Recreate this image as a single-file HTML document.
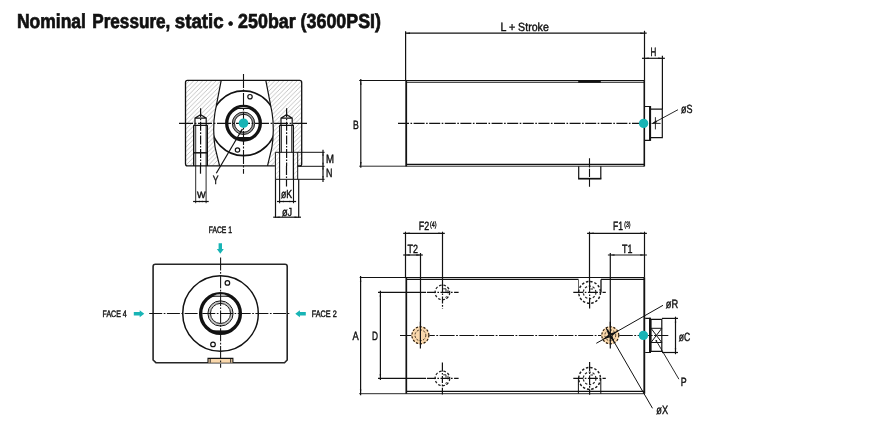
<!DOCTYPE html>
<html><head><meta charset="utf-8"><title>Nominal Pressure, static · 250bar (3600PSI)</title>
<style>
html,body{margin:0;padding:0;background:#fff;}
body{width:870px;height:435px;overflow:hidden;}
svg{display:block;}
svg text{text-rendering:geometricPrecision;font-family:"Liberation Sans",Arial,Helvetica,sans-serif;fill:#111;}
</style></head><body>
<svg width="870" height="435" viewBox="0 0 870 435">
<rect width="870" height="435" fill="#fff"/>
<defs><pattern id="h" width="4.5" height="4.5" patternUnits="userSpaceOnUse"><path d="M-1,5.5 L5.5,-1 M-1,1 L1,-1 M3.5,5.5 L5.5,3.5" stroke="#b4b4b4" stroke-width="0.8"/></pattern><pattern id="h2" width="4.5" height="4.5" patternUnits="userSpaceOnUse"><path d="M-1,5.5 L5.5,-1 M-1,1 L1,-1 M3.5,5.5 L5.5,3.5" stroke="#cfcfcf" stroke-width="0.8"/></pattern></defs>
<path d="M187.5,80.4 H299.7 Q301.7,80.4 301.7,82.4 V164 Q301.7,165.9 299.7,165.9 H187.5 Q185.5,165.9 185.5,164 V82.4 Q185.5,80.4 187.5,80.4 Z" fill="#fff" />
<path d="M187.5,80.4 H299.7 Q301.7,80.4 301.7,82.4 V164 Q301.7,165.9 299.7,165.9 H187.5 Q185.5,165.9 185.5,164 V82.4 Q185.5,80.4 187.5,80.4 Z" fill="url(#h)" />
<path d="M221.2,80.4 L214.9,113 Q213.6,121 213.7,130 Q213.8,140 215.2,148 L219.6,165.9 L267.5,165.9 L271.8,148 Q273.2,140 273.3,130 Q273.4,121 272.1,113 L265.8,80.4 Z" fill="#fff" />
<path d="M195.0,118.1 L200.6,114.7 L206.2,118.1 V125.3 H207.29999999999998 V166 H193.9 V125.3 H195.0 Z" fill="#fff" />
<path d="M281.0,118.1 L286.6,114.7 L292.20000000000005,118.1 V125.3 H293.3 V166 H279.90000000000003 V125.3 H281.0 Z" fill="#fff" />
<path d="M187.5,80.4 H299.7 Q301.7,80.4 301.7,82.4 V164 Q301.7,165.9 299.7,165.9 H187.5 Q185.5,165.9 185.5,164 V82.4 Q185.5,80.4 187.5,80.4 Z" fill="none" stroke="#121212" stroke-width="1.3" />
<path d="M274.9,152.4 H297.7 V179.3 H274.9 Z" fill="#fff" />
<path d="M275.4,152.4 H279.6 V179.3 H275.4 Z" fill="url(#h2)" />
<path d="M293.3,152.4 H297.7 V179.3 H293.3 Z" fill="url(#h2)" />
<path d="M221.2,80.4 L214.9,113 Q213.6,121 213.7,130 Q213.8,140 215.2,148 L219.6,165.9" fill="none" stroke="#121212" stroke-width="1.2" />
<path d="M265.8,80.4 L272.1,113 Q273.4,121 273.3,130 Q273.2,140 271.8,148 L267.5,165.9" fill="none" stroke="#121212" stroke-width="1.2" />
<clipPath id="cb"><path d="M221.2,80.4 L214.9,113 Q213.6,121 213.7,130 Q213.8,140 215.2,148 L219.6,165.9 L267.5,165.9 L271.8,148 Q273.2,140 273.3,130 Q273.4,121 272.1,113 L265.8,80.4 Z"/></clipPath>
<circle cx="243.5" cy="123.3" r="32.4" fill="none" stroke="#121212" stroke-width="1.7" clip-path="url(#cb)"/>
<circle cx="243.5" cy="123.3" r="16.8" fill="none" stroke="#121212" stroke-width="3.3"/>
<path d="M238.3,108.05 A15.95,15.95 0 0 1 248.7,108.05 Z" fill="#fff" />
<path d="M236.9,108.5 H250.1" fill="none" stroke="#121212" stroke-width="1.0" />
<path d="M236.9,137.5 H250.1" fill="none" stroke="#121212" stroke-width="1.0" />
<path d="M235.1,137.9 A17.3,17.3 0 0 0 251.9,137.9 Z" fill="#121212" stroke="#121212" stroke-width="0.5" />
<circle cx="243.5" cy="123.3" r="10.1" fill="none" stroke="#9a9a9a" stroke-width="2.6"/>
<circle cx="243.5" cy="123.3" r="11.2" fill="none" stroke="#121212" stroke-width="0.9"/>
<circle cx="243.5" cy="123.3" r="9.0" fill="none" stroke="#121212" stroke-width="0.9"/>
<circle cx="250" cy="96.7" r="2.2" fill="#fff" stroke="#121212" stroke-width="1.2"/>
<circle cx="237.5" cy="150" r="2.2" fill="#fff" stroke="#121212" stroke-width="1.2"/>
<line x1="179" y1="123.39999999999999" x2="308" y2="123.39999999999999" stroke="#121212" stroke-width="1.1" stroke-dasharray="14 1.6 1.8 1.6"/>
<line x1="243.5" y1="74" x2="243.5" y2="173.7" stroke="#121212" stroke-width="1.1" stroke-dasharray="14 1.6 1.8 1.6"/>
<circle cx="243.5" cy="123.2" r="4.8" fill="#18b4b5"/>
<path d="M195.0,125.3 V118.1 L200.6,114.7 L206.2,118.1 V125.3 M195.0,118.1 H206.2 M193.5,125.3 H207.7" fill="none" stroke="#121212" stroke-width="1.2" />
<line x1="200.6" y1="108.2" x2="200.6" y2="166" stroke="#121212" stroke-width="1.2" stroke-dasharray="9 1.5 1.6 1.5"/>
<path d="M281.0,125.3 V118.1 L286.6,114.7 L292.20000000000005,118.1 V125.3 M281.0,118.1 H292.20000000000005 M279.5,125.3 H293.70000000000005" fill="none" stroke="#121212" stroke-width="1.2" />
<line x1="286.6" y1="108.2" x2="286.6" y2="166" stroke="#121212" stroke-width="1.2" stroke-dasharray="9 1.5 1.6 1.5"/>
<path d="M193.7,125.3 V165.9 M207.3,125.3 V165.9" fill="none" stroke="#121212" stroke-width="1.4" />
<path d="M193.1,152.8 H207.9" fill="none" stroke="#121212" stroke-width="1.5" />
<line x1="195.7" y1="125.3" x2="195.7" y2="203.2" stroke="#121212" stroke-width="0.9"/>
<line x1="206.1" y1="125.3" x2="206.1" y2="203.2" stroke="#121212" stroke-width="0.9"/>
<line x1="200.5" y1="166" x2="200.5" y2="173.7" stroke="#121212" stroke-width="1.2"/>
<line x1="193.1" y1="201.5" x2="208.7" y2="201.5" stroke="#121212" stroke-width="1.2"/>
<polygon points="195.70,201.50 199.90,200.75 199.90,202.25" fill="#121212"/>
<polygon points="206.10,201.50 201.90,202.25 201.90,200.75" fill="#121212"/>
<path d="M279.7,125.3 V152.4" fill="none" stroke="#121212" stroke-width="1.4" />
<path d="M293.3,125.3 V152.4" fill="none" stroke="#121212" stroke-width="1.4" />
<path d="M293.4,152.4 V179.3" fill="none" stroke="#121212" stroke-width="1.3" />
<path d="M281.5,125.3 V152.4 M291.6,125.3 V152.4" fill="none" stroke="#121212" stroke-width="0.8" />
<path d="M275.4,179.3 V152.3 H324.6 M297.7,152.4 V179.3 M275.4,179.3 H324.6 M297.7,166.3 H324.6" fill="none" stroke="#121212" stroke-width="1.0" />
<line x1="279.6" y1="152.4" x2="279.6" y2="203.2" stroke="#121212" stroke-width="1.1"/>
<line x1="293.5" y1="179.3" x2="293.5" y2="203.2" stroke="#121212" stroke-width="1.1"/>
<line x1="275.5" y1="179.3" x2="275.5" y2="217.7" stroke="#121212" stroke-width="1.2"/>
<line x1="298.7" y1="179.3" x2="298.7" y2="217.7" stroke="#121212" stroke-width="1.2"/>
<line x1="286.5" y1="166" x2="286.5" y2="186.5" stroke="#121212" stroke-width="1.2" stroke-dasharray="9 1.5 1.6 1.5"/>
<line x1="277.0" y1="201.5" x2="296.1" y2="201.5" stroke="#121212" stroke-width="1.2"/>
<polygon points="279.60,201.50 283.80,200.75 283.80,202.25" fill="#121212"/>
<polygon points="293.50,201.50 289.30,202.25 289.30,200.75" fill="#121212"/>
<line x1="273.2" y1="217.2" x2="301.0" y2="217.2" stroke="#121212" stroke-width="1.2"/>
<polygon points="275.50,217.20 279.70,216.45 279.70,217.95" fill="#121212"/>
<polygon points="298.70,217.20 294.50,217.95 294.50,216.45" fill="#121212"/>
<line x1="323" y1="149.8" x2="323" y2="181.9" stroke="#121212" stroke-width="1.2"/>
<polygon points="323.00,152.40 323.65,155.80 322.35,155.80" fill="#121212"/>
<polygon points="323.00,166.10 322.35,162.70 323.65,162.70" fill="#121212"/>
<polygon points="323.00,166.10 323.65,169.50 322.35,169.50" fill="#121212"/>
<polygon points="323.00,179.30 322.35,175.90 323.65,175.90" fill="#121212"/>
<line x1="242.4" y1="129.0" x2="216.3" y2="173.3" stroke="#121212" stroke-width="1.2"/>
<polygon points="242.70,128.40 241.19,132.73 239.64,131.82" fill="#121212"/>
<path d="M406.3,80.8 H644.4 V165.6 H406.3 Z" fill="#fff" />
<line x1="359.2" y1="80.5" x2="644.4" y2="80.5" stroke="#121212" stroke-width="1.0"/>
<line x1="406.3" y1="82.2" x2="644.4" y2="82.2" stroke="#121212" stroke-width="1.05"/>
<line x1="578.2" y1="81.35" x2="600.8" y2="81.35" stroke="#121212" stroke-width="2.7"/>
<line x1="406.3" y1="164.4" x2="644.4" y2="164.4" stroke="#121212" stroke-width="1.2"/>
<line x1="359.2" y1="166.2" x2="644.4" y2="166.2" stroke="#121212" stroke-width="0.9"/>
<line x1="406.2" y1="80.5" x2="406.2" y2="166.4" stroke="#121212" stroke-width="1.8"/>
<line x1="644.3" y1="80.5" x2="644.3" y2="166.4" stroke="#121212" stroke-width="1.6"/>
<line x1="405.6" y1="31.2" x2="405.6" y2="80.5" stroke="#121212" stroke-width="1.2"/>
<line x1="644.5" y1="30.8" x2="644.5" y2="80.8" stroke="#121212" stroke-width="1.2"/>
<line x1="405.8" y1="33.2" x2="646.7" y2="33.2" stroke="#121212" stroke-width="1.2"/>
<polygon points="405.80,33.20 410.00,32.45 410.00,33.95" fill="#121212"/>
<polygon points="644.50,33.20 640.30,33.95 640.30,32.45" fill="#121212"/>
<line x1="662.4" y1="55.8" x2="662.4" y2="109" stroke="#121212" stroke-width="1.2"/>
<line x1="642.0" y1="58.3" x2="664.9" y2="58.3" stroke="#121212" stroke-width="1.2"/>
<polygon points="644.50,58.30 648.70,57.55 648.70,59.05" fill="#121212"/>
<polygon points="662.40,58.30 658.20,59.05 658.20,57.55" fill="#121212"/>
<line x1="360.8" y1="78.9" x2="360.8" y2="167.79999999999998" stroke="#121212" stroke-width="1.2"/>
<polygon points="360.80,80.50 361.55,84.70 360.05,84.70" fill="#121212"/>
<polygon points="360.80,166.20 360.05,162.00 361.55,162.00" fill="#121212"/>
<line x1="398" y1="123.4" x2="640" y2="123.4" stroke="#121212" stroke-width="1.1" stroke-dasharray="11 1.5 1.6 1.5"/>
<path d="M645,106.5 H650 V140.3 H645" fill="none" stroke="#121212" stroke-width="1.2" />
<path d="M651,109.2 H662.3 V137.7 H651" fill="none" stroke="#121212" stroke-width="1.2" />
<line x1="650.1" y1="106" x2="650.1" y2="140.8" stroke="#121212" stroke-width="2.0"/>
<line x1="655.4" y1="117.2" x2="655.4" y2="129.4" stroke="#121212" stroke-width="0.9"/>
<line x1="651.5" y1="123.4" x2="660.6" y2="123.4" stroke="#121212" stroke-width="0.9"/>
<line x1="678" y1="109.7" x2="653" y2="123.2" stroke="#121212" stroke-width="0.9"/>
<polygon points="652.20,123.60 656.07,120.25 657.12,122.18" fill="#121212"/>
<circle cx="643.6" cy="123.4" r="4.7" fill="#18b4b5"/>
<path d="M578.7,166.2 V178.6 M600.8,166.2 V178.6" fill="none" stroke="#121212" stroke-width="1.2" />
<line x1="578.1" y1="178.7" x2="601.4" y2="178.7" stroke="#121212" stroke-width="1.7"/>
<line x1="589.5" y1="158.2" x2="589.5" y2="186.8" stroke="#121212" stroke-width="1.1" stroke-dasharray="9.3 1.2 8.2 1.2 20"/>
<path d="M406.3,277.5 H644.6 V393.7 H406.3 Z" fill="#fff" />
<line x1="359.7" y1="277.5" x2="644.6" y2="277.5" stroke="#121212" stroke-width="1.2"/>
<line x1="406.3" y1="279.4" x2="578.5" y2="279.4" stroke="#121212" stroke-width="1.2"/>
<line x1="601" y1="279.4" x2="644.6" y2="279.4" stroke="#121212" stroke-width="1.2"/>
<line x1="406.3" y1="391.4" x2="644.6" y2="391.4" stroke="#121212" stroke-width="1.2"/>
<line x1="359.2" y1="393.7" x2="644.6" y2="393.7" stroke="#121212" stroke-width="0.9"/>
<line x1="406.3" y1="277.5" x2="406.3" y2="393.7" stroke="#121212" stroke-width="1.7"/>
<line x1="644.3" y1="277.5" x2="644.3" y2="393.7" stroke="#121212" stroke-width="1.85"/>
<line x1="405.5" y1="231.7" x2="405.5" y2="277.5" stroke="#121212" stroke-width="1.2"/>
<line x1="442.5" y1="231.7" x2="442.5" y2="285" stroke="#121212" stroke-width="1.2"/>
<line x1="403.2" y1="233.3" x2="444.8" y2="233.3" stroke="#121212" stroke-width="1.2"/>
<polygon points="405.50,233.30 409.70,232.55 409.70,234.05" fill="#121212"/>
<polygon points="442.50,233.30 438.30,234.05 438.30,232.55" fill="#121212"/>
<line x1="420.5" y1="253" x2="420.5" y2="327" stroke="#121212" stroke-width="1.2"/>
<line x1="403.2" y1="255" x2="422.8" y2="255" stroke="#121212" stroke-width="1.2"/>
<polygon points="405.50,255.00 409.70,254.25 409.70,255.75" fill="#121212"/>
<polygon points="420.50,255.00 416.30,255.75 416.30,254.25" fill="#121212"/>
<line x1="589.5" y1="231.7" x2="589.5" y2="282" stroke="#121212" stroke-width="1.2"/>
<line x1="644.5" y1="231.7" x2="644.5" y2="277.5" stroke="#121212" stroke-width="1.2"/>
<line x1="587.1" y1="233.3" x2="646.9" y2="233.3" stroke="#121212" stroke-width="1.2"/>
<polygon points="589.50,233.30 593.70,232.55 593.70,234.05" fill="#121212"/>
<polygon points="644.50,233.30 640.30,234.05 640.30,232.55" fill="#121212"/>
<line x1="610.3" y1="253" x2="610.3" y2="326" stroke="#121212" stroke-width="1.2"/>
<line x1="607.9" y1="255" x2="646.9" y2="255" stroke="#121212" stroke-width="1.2"/>
<polygon points="610.30,255.00 614.50,254.25 614.50,255.75" fill="#121212"/>
<polygon points="644.50,255.00 640.30,255.75 640.30,254.25" fill="#121212"/>
<line x1="360.6" y1="275.9" x2="360.6" y2="395.3" stroke="#121212" stroke-width="1.2"/>
<polygon points="360.60,277.50 361.35,281.70 359.85,281.70" fill="#121212"/>
<polygon points="360.60,393.70 359.85,389.50 361.35,389.50" fill="#121212"/>
<line x1="378" y1="292.4" x2="426" y2="292.4" stroke="#121212" stroke-width="1.2"/>
<line x1="378" y1="378.4" x2="426" y2="378.4" stroke="#121212" stroke-width="1.2"/>
<line x1="380.4" y1="290.79999999999995" x2="380.4" y2="380.0" stroke="#121212" stroke-width="1.2"/>
<polygon points="380.40,292.40 381.15,296.60 379.65,296.60" fill="#121212"/>
<polygon points="380.40,378.40 379.65,374.20 381.15,374.20" fill="#121212"/>
<line x1="400" y1="335.45" x2="668.3" y2="335.45" stroke="#121212" stroke-width="1.1" stroke-dasharray="15 1.5 1.8 1.5"/>
<circle cx="442.4" cy="292.4" r="7.3" fill="none" stroke="#222" stroke-width="1.25" stroke-dasharray="2.6 1.8"/>
<path d="M443.2,288.79999999999995 H446.0 V291.79999999999995" fill="none" stroke="#121212" stroke-width="0.9" />
<path d="M448.0,289.9 V293.4" fill="none" stroke="#121212" stroke-width="0.9" />
<circle cx="446.59999999999997" cy="297.4" r="0.9" fill="none" stroke="#121212" stroke-width="0.6"/>
<line x1="426.9" y1="292.4" x2="458.59999999999997" y2="292.4" stroke="#121212" stroke-width="1.2" stroke-dasharray="9 1.5 1.6 1.5"/>
<circle cx="442.4" cy="378.4" r="7.3" fill="none" stroke="#222" stroke-width="1.25" stroke-dasharray="2.6 1.8"/>
<path d="M443.2,374.79999999999995 H446.0 V377.79999999999995" fill="none" stroke="#121212" stroke-width="0.9" />
<path d="M448.0,375.9 V379.4" fill="none" stroke="#121212" stroke-width="0.9" />
<circle cx="446.59999999999997" cy="383.4" r="0.9" fill="none" stroke="#121212" stroke-width="0.6"/>
<line x1="426.9" y1="378.4" x2="458.59999999999997" y2="378.4" stroke="#121212" stroke-width="1.2" stroke-dasharray="9 1.5 1.6 1.5"/>
<line x1="442.5" y1="285" x2="442.5" y2="308.7" stroke="#121212" stroke-width="1.2" stroke-dasharray="7 1.5 1.6 1.5"/>
<line x1="442.4" y1="362.5" x2="442.4" y2="394.5" stroke="#121212" stroke-width="1.2" stroke-dasharray="9 1.5 1.6 1.5 7 1.5 1.6 1.5"/>
<path d="M578.5,279.5 V292" fill="none" stroke="#555" stroke-width="0.9" />
<path d="M601,279.5 V292.4" fill="none" stroke="#121212" stroke-width="1.3" />
<path d="M578.4,393.7 V378.3 M600.8,393.7 V378.3" fill="none" stroke="#121212" stroke-width="1.0" />
<circle cx="589.6" cy="292.4" r="10.9" fill="none" stroke="#1a1a1a" stroke-width="1.4" stroke-dasharray="2.5 1.8"/>
<circle cx="589.6" cy="292.4" r="6.3" fill="none" stroke="#2a2a2a" stroke-width="1.2" stroke-dasharray="2.3 1.7"/>
<path d="M590.4,289.0 H593.0" fill="none" stroke="#121212" stroke-width="0.9" />
<line x1="573.3000000000001" y1="292.4" x2="605.8000000000001" y2="292.4" stroke="#121212" stroke-width="1.2" stroke-dasharray="10 1.5 1.6 1.5"/>
<circle cx="589.6" cy="378.4" r="10.9" fill="none" stroke="#1a1a1a" stroke-width="1.4" stroke-dasharray="2.5 1.8"/>
<circle cx="589.6" cy="378.4" r="6.3" fill="none" stroke="#2a2a2a" stroke-width="1.2" stroke-dasharray="2.3 1.7"/>
<path d="M590.4,375.0 H593.0" fill="none" stroke="#121212" stroke-width="0.9" />
<line x1="573.3000000000001" y1="378.4" x2="605.8000000000001" y2="378.4" stroke="#121212" stroke-width="1.2" stroke-dasharray="10 1.5 1.6 1.5"/>
<line x1="589.6" y1="282" x2="589.6" y2="308.7" stroke="#121212" stroke-width="1.2" stroke-dasharray="11 1.5 1.6 1.5"/>
<line x1="589.6" y1="362" x2="589.6" y2="394.8" stroke="#121212" stroke-width="1.2" stroke-dasharray="9 1.5 1.6 1.5"/>
<circle cx="420.4" cy="335.3" r="9.0" fill="#fad8ac"/>
<circle cx="420.4" cy="335.3" r="8.5" fill="none" stroke="#2a1e10" stroke-width="1.2" stroke-dasharray="2.2 1.7"/>
<circle cx="420.4" cy="335.3" r="5.4" fill="none" stroke="#3a2c1a" stroke-width="1.0" stroke-dasharray="2.0 1.5"/>
<line x1="420.4" y1="321.8" x2="420.4" y2="348.6" stroke="#121212" stroke-width="1.2"/>
<circle cx="610.3" cy="335.3" r="9.0" fill="#fad8ac"/>
<circle cx="610.3" cy="335.3" r="8.5" fill="none" stroke="#2a1e10" stroke-width="1.2" stroke-dasharray="2.2 1.7"/>
<circle cx="610.3" cy="335.3" r="5.4" fill="none" stroke="#3a2c1a" stroke-width="1.0" stroke-dasharray="2.0 1.5"/>
<line x1="610.3" y1="321.8" x2="610.3" y2="348.6" stroke="#121212" stroke-width="1.2"/>
<line x1="663" y1="305.3" x2="596.3" y2="343.3" stroke="#121212" stroke-width="1.0"/>
<polygon points="618.29,330.75 611.96,336.20 610.38,333.41" fill="#121212"/>
<polygon points="602.31,339.85 608.64,334.40 610.22,337.19" fill="#121212"/>
<line x1="606.2" y1="328.2" x2="652.5" y2="408.3" stroke="#121212" stroke-width="1.0"/>
<polygon points="614.90,343.26 609.42,336.97 612.19,335.36" fill="#121212"/>
<polygon points="605.70,327.34 611.18,333.63 608.41,335.24" fill="#121212"/>
<path d="M645.2,318.3 H650 V352.5 H645.2" fill="none" stroke="#121212" stroke-width="1.2" />
<path d="M651,319.3 H661.8 V351.3 H651 Z" fill="none" stroke="#121212" stroke-width="1.2" />
<line x1="650.0" y1="317.8" x2="650.0" y2="353" stroke="#121212" stroke-width="1.95"/>
<path d="M651,328.3 H661.8 M651,342.5 H661.8 M651,328.3 L661.8,342.5 M661.8,328.3 L651,342.5" fill="none" stroke="#121212" stroke-width="1.0" />
<line x1="662" y1="318.4" x2="678" y2="318.4" stroke="#121212" stroke-width="1.2"/>
<line x1="662" y1="352.5" x2="678" y2="352.5" stroke="#121212" stroke-width="1.2"/>
<line x1="675.5" y1="316.7" x2="675.5" y2="354.2" stroke="#121212" stroke-width="1.2"/>
<polygon points="675.50,318.40 676.25,322.60 674.75,322.60" fill="#121212"/>
<polygon points="675.50,352.50 674.75,348.30 676.25,348.30" fill="#121212"/>
<line x1="656.3" y1="340.8" x2="678.9" y2="379.2" stroke="#121212" stroke-width="0.9"/>
<circle cx="656.3" cy="340.8" r="0.9" fill="#121212"/>
<circle cx="643.4" cy="335.4" r="4.7" fill="#18b4b5"/>
<path d="M155.4,264.2 H285 Q287.2,264.2 287.2,266.4 V360 L284.5,362.7 H155.9 L153.1,360 V266.4 Q153.1,264.2 155.4,264.2 Z" fill="#fff" stroke="#262626" stroke-width="1.6" />
<circle cx="220.5" cy="313.45" r="37.8" fill="none" stroke="#121212" stroke-width="1.5"/>
<circle cx="220.5" cy="313.45" r="19.85" fill="none" stroke="#121212" stroke-width="3.4"/>
<path d="M213.3,295.7 A18.9,18.9 0 0 1 227.7,295.7 Z" fill="#fff" />
<path d="M212.2,296.25 H228.8" fill="none" stroke="#121212" stroke-width="1.0" />
<path d="M211.2,330.95 H229.8" fill="none" stroke="#121212" stroke-width="1.0" />
<path d="M211.1,331.25 A20.5,20.5 0 0 0 229.9,331.25 Z" fill="#121212" stroke="#121212" stroke-width="0.5" />
<circle cx="220.5" cy="313.45" r="11.35" fill="none" stroke="#c4c4c4" stroke-width="1.7"/>
<circle cx="220.5" cy="313.45" r="12.6" fill="none" stroke="#121212" stroke-width="1.0"/>
<circle cx="220.5" cy="313.45" r="10.05" fill="none" stroke="#121212" stroke-width="1.0"/>
<circle cx="227.4" cy="282.9" r="2.3" fill="#fff" stroke="#121212" stroke-width="1.2"/>
<circle cx="213" cy="344.4" r="2.3" fill="#fff" stroke="#121212" stroke-width="1.2"/>
<path d="M208,362.7 V358.4 H232.9 V362.7" fill="#fad8ac" stroke="#121212" stroke-width="1.1" />
<path d="M210.2,358.4 V362.7 M230.7,358.4 V362.7" fill="none" stroke="#121212" stroke-width="0.9" />
<line x1="149.2" y1="313.45" x2="290" y2="313.45" stroke="#121212" stroke-width="1.05" stroke-dasharray="13 1.5 1.7 1.5"/>
<line x1="220.6" y1="257.5" x2="220.6" y2="367.8" stroke="#121212" stroke-width="1.05" stroke-dasharray="13 1.5 1.7 1.5"/>
<g transform="translate(220.3,253.7) rotate(90)"><path d="M-10.5,-1.7 H-4.6 V-3.5 L0,0 L-4.6,3.5 V1.7 H-10.5 Z" fill="#18b4b5"/></g>
<g transform="translate(144.3,313.7) rotate(0)"><path d="M-10.5,-1.7 H-4.6 V-3.5 L0,0 L-4.6,3.5 V1.7 H-10.5 Z" fill="#18b4b5"/></g>
<g transform="translate(295.3,313.7) rotate(180)"><path d="M-10.5,-1.7 H-4.6 V-3.5 L0,0 L-4.6,3.5 V1.7 H-10.5 Z" fill="#18b4b5"/></g>
<g style="filter:grayscale(1)">
<text x="17.0" y="28.3" font-size="20.2" textLength="68.9" lengthAdjust="spacingAndGlyphs" font-weight="bold" stroke="#111" stroke-width="0.7">Nominal</text>
<text x="92.2" y="28.3" font-size="20.2" textLength="78.2" lengthAdjust="spacingAndGlyphs" font-weight="bold" stroke="#111" stroke-width="0.7">Pressure,</text>
<text x="174.8" y="28.3" font-size="20.2" textLength="48.8" lengthAdjust="spacingAndGlyphs" font-weight="bold" stroke="#111" stroke-width="0.7">static</text>
<text x="230.5" y="27.9" font-size="13.5" font-weight="bold" text-anchor="middle" stroke="#111" stroke-width="0.7">•</text>
<text x="238.1" y="28.3" font-size="20.2" textLength="142.9" lengthAdjust="spacingAndGlyphs" font-weight="bold" stroke="#111" stroke-width="0.7">250bar (3600PSI)</text>
<text x="196.9" y="197.8" font-size="9.2" textLength="8.6" lengthAdjust="spacingAndGlyphs" stroke="#111" stroke-width="0.42">W</text>
<text x="280.9" y="197.9" font-size="11.6" textLength="11.2" lengthAdjust="spacingAndGlyphs" stroke="#111" stroke-width="0.42">øK</text>
<text x="281.9" y="215.7" font-size="11.6" textLength="10.2" lengthAdjust="spacingAndGlyphs" stroke="#111" stroke-width="0.42">øJ</text>
<text x="325.9" y="163.3" font-size="11.9" textLength="8.0" lengthAdjust="spacingAndGlyphs" stroke="#111" stroke-width="0.42">M</text>
<text x="325.9" y="177.2" font-size="11.9" textLength="6.4" lengthAdjust="spacingAndGlyphs" stroke="#111" stroke-width="0.42">N</text>
<text x="212.8" y="184.2" font-size="11.9" textLength="5.8" lengthAdjust="spacingAndGlyphs" stroke="#111" stroke-width="0.42">Y</text>
<text x="500.5" y="30.7" font-size="11.9" textLength="48.3" lengthAdjust="spacingAndGlyphs" stroke="#111" stroke-width="0.42">L + Stroke</text>
<text x="650.5" y="55.8" font-size="11.9" textLength="5.8" lengthAdjust="spacingAndGlyphs" stroke="#111" stroke-width="0.42">H</text>
<text x="353" y="128.7" font-size="11.9" textLength="5.8" lengthAdjust="spacingAndGlyphs" stroke="#111" stroke-width="0.42">B</text>
<text x="680.9" y="112.6" font-size="11.9" textLength="11.5" lengthAdjust="spacingAndGlyphs" stroke="#111" stroke-width="0.42">øS</text>
<text x="418.7" y="230.3" font-size="11.9" textLength="10.4" lengthAdjust="spacingAndGlyphs" stroke="#111" stroke-width="0.42">F2</text>
<text x="430" y="226.7" font-size="7.8" textLength="6.5" lengthAdjust="spacingAndGlyphs" stroke="#111" stroke-width="0.42">(4)</text>
<text x="407.5" y="253" font-size="11.9" textLength="10.4" lengthAdjust="spacingAndGlyphs" stroke="#111" stroke-width="0.42">T2</text>
<text x="613" y="230.3" font-size="11.9" textLength="10" lengthAdjust="spacingAndGlyphs" stroke="#111" stroke-width="0.42">F1</text>
<text x="624.2" y="226.5" font-size="7.8" textLength="6.3" lengthAdjust="spacingAndGlyphs" stroke="#111" stroke-width="0.42">(3)</text>
<text x="622" y="253" font-size="11.9" textLength="10.4" lengthAdjust="spacingAndGlyphs" stroke="#111" stroke-width="0.42">T1</text>
<text x="352.5" y="339.7" font-size="11.9" textLength="6.2" lengthAdjust="spacingAndGlyphs" stroke="#111" stroke-width="0.42">A</text>
<text x="372" y="339.7" font-size="11.9" textLength="6.0" lengthAdjust="spacingAndGlyphs" stroke="#111" stroke-width="0.42">D</text>
<text x="665.8" y="308.3" font-size="11.9" textLength="12.4" lengthAdjust="spacingAndGlyphs" stroke="#111" stroke-width="0.42">øR</text>
<text x="656.3" y="414.2" font-size="11.9" textLength="11.7" lengthAdjust="spacingAndGlyphs" stroke="#111" stroke-width="0.42">øX</text>
<text x="678.8" y="341.2" font-size="11.9" textLength="11.5" lengthAdjust="spacingAndGlyphs" stroke="#111" stroke-width="0.42">øC</text>
<text x="680.8" y="385.8" font-size="11.9" textLength="5.9" lengthAdjust="spacingAndGlyphs" stroke="#111" stroke-width="0.42">P</text>
<text x="208.7" y="233" font-size="9.4" textLength="23.3" lengthAdjust="spacingAndGlyphs" stroke="#111" stroke-width="0.42">FACE 1</text>
<text x="102.5" y="317" font-size="9.4" textLength="24.2" lengthAdjust="spacingAndGlyphs" stroke="#111" stroke-width="0.42">FACE 4</text>
<text x="311.7" y="317" font-size="9.4" textLength="25" lengthAdjust="spacingAndGlyphs" stroke="#111" stroke-width="0.42">FACE 2</text>
</g>
</svg>
</body></html>
